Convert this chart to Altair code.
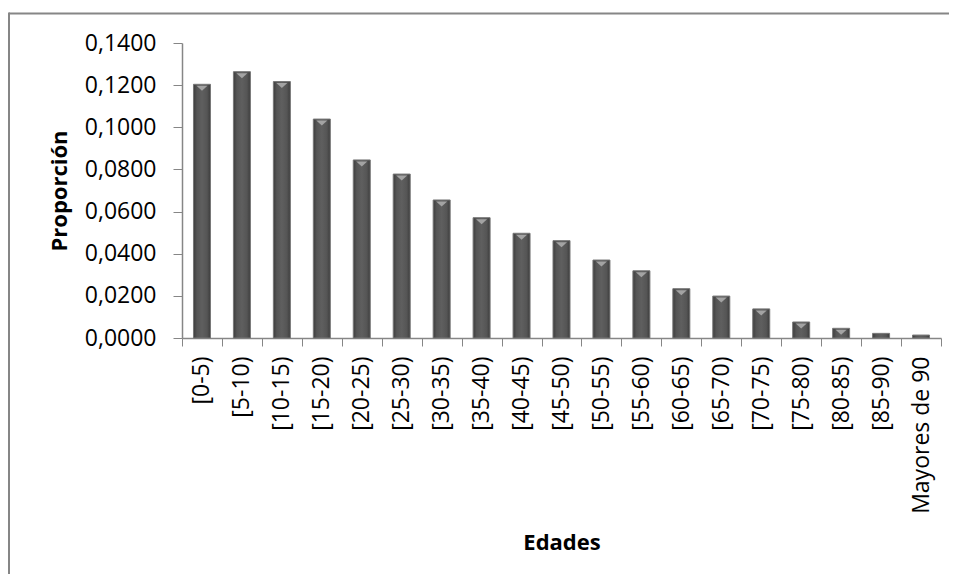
import altair as alt
import pandas as pd

categories = ["[0-5)", "[5-10)", "[10-15)", "[15-20)", "[20-25)", "[25-30)",
              "[30-35)", "[35-40)", "[40-45)", "[45-50)", "[50-55)", "[55-60)",
              "[60-65)", "[65-70)", "[70-75)", "[75-80)", "[80-85)", "[85-90)",
              "Mayores de 90"]
values = [0.1204, 0.1264, 0.1217, 0.1039, 0.0845, 0.0778, 0.0655, 0.0571,
          0.0497, 0.0462, 0.0370, 0.0319, 0.0234, 0.0199, 0.0138, 0.0076,
          0.0046, 0.0022, 0.0014]
y_ticks = [0, 0.02, 0.04, 0.06, 0.08, 0.10, 0.12, 0.14]

df = pd.DataFrame({"Edades": categories, "Proporcion": values})

FONT = "Open Sans"
GRAY = "#868686"
W, H = 759, 295

x_enc = alt.X("Edades:N", sort=categories,
              scale=alt.Scale(paddingInner=0, paddingOuter=0),
              axis=alt.Axis(title="Edades", labelAngle=-90, tickBand="extent",
                            tickSize=8, labelPadding=10, labelFontSize=23,
                            labelFont=FONT, labelColor="#000000",
                            domainColor=GRAY, tickColor=GRAY, domainWidth=1.5,
                            titleFont=FONT, titleFontSize=22, titleFontWeight="bold",
                            titleColor="#000000", titleY=204, titleBaseline="middle",
                            labelLimit=300))
y_enc = alt.Y("Proporcion:Q",
              scale=alt.Scale(domain=[0, 0.14], nice=False),
              axis=alt.Axis(title="Proporción", values=y_ticks,
                            labelExpr="replace(format(datum.value, '.4f'), '.', ',')",
                            tickSize=9, labelPadding=17, labelFontSize=23,
                            labelFont=FONT, labelColor="#000000",
                            domainColor=GRAY, tickColor=GRAY, domainWidth=1.5,
                            grid=False, titleFont=FONT, titleFontSize=22,
                            titleFontWeight="bold", titleColor="#000000",
                            titleX=-123, titleY=H / 2, titleBaseline="middle"))

bar_fill = alt.Gradient(
    gradient="linear", x1=0, x2=1, y1=0, y2=0,
    stops=[alt.GradientStop(offset=0, color="#3c3c3c"),
           alt.GradientStop(offset=0.2, color="#555555"),
           alt.GradientStop(offset=0.5, color="#5f5f5f"),
           alt.GradientStop(offset=0.8, color="#555555"),
           alt.GradientStop(offset=1, color="#3c3c3c")])

bars = alt.Chart(df).mark_bar(size=17, color=bar_fill, stroke="#777777",
                              strokeWidth=1).encode(x=x_enc, y=y_enc)

tri = alt.Chart(df).transform_filter("datum.Proporcion > 0.003").mark_point(
    shape="M-1,-0.45L1,-0.45L0,0.45Z", filled=True, color="#a3a3a3",
    size=121, opacity=1, yOffset=4
).encode(x=alt.X("Edades:N", sort=categories), y="Proporcion:Q")

blank = alt.Data(values=[{"a": 1}])
top_border = alt.Chart(blank).mark_rule(color=GRAY, strokeWidth=2).encode(
    x=alt.value(-173), x2=alt.value(W + 20), y=alt.value(-29.5))
left_border = alt.Chart(blank).mark_rule(color=GRAY, strokeWidth=2).encode(
    x=alt.value(-173), y=alt.value(-30.5), y2=alt.value(H + 300))

chart = alt.layer(bars, tri, top_border, left_border).properties(
    width=W, height=H,
    autosize=alt.AutoSizeParams(type="none"),
    padding={"left": 174, "top": 35, "right": 8, "bottom": 236},
    background="#ffffff",
).configure_view(stroke=None)

chart.save("out.html", embed_options={"renderer": "svg", "actions": False})
